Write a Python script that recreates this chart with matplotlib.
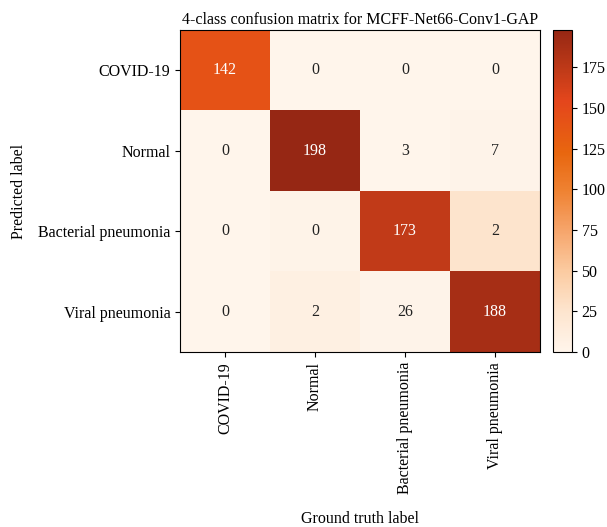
import numpy as np
import matplotlib.pyplot as plt
from matplotlib.colors import LinearSegmentedColormap

plt.rcParams['font.family'] = ['Liberation Serif', 'DejaVu Serif']

classes = ['COVID-19', 'Normal', 'Bacterial pneumonia', 'Viral pneumonia']
cm = np.array([[142, 0, 0, 0],
               [0, 198, 3, 7],
               [0, 0, 173, 2],
               [0, 2, 26, 188]])

# orange-red scale sampled from the original colour bar
cmap = LinearSegmentedColormap.from_list('orred', [
    (0.0, '#fff5eb'), (0.13, '#fde4cd'), (0.25, '#fbcba1'),
    (0.38, '#f6a46a'), (0.5, '#ef8232'), (0.62, '#e8660f'),
    (0.78, '#e4461c'), (0.88, '#bf3a18'), (1.0, '#962714')])

fig = plt.figure(figsize=(6.07, 5.27), dpi=100)
ax = fig.add_axes([0.2966, 0.332, 0.593, 0.611])
cax = fig.add_axes([0.911, 0.332, 0.031, 0.611])

# colours drawn from the transposed matrix, as in the original figure
im = ax.imshow(cm.T, cmap=cmap, aspect='auto', vmin=0, vmax=cm.max())
cb = fig.colorbar(im, cax=cax, ticks=np.arange(0, 176, 25))
cb.ax.tick_params(labelsize=11.5)

ax.set_xticks(range(len(classes)))
ax.set_yticks(range(len(classes)))
ax.set_xticklabels(classes, rotation=90, fontsize=11.5)
ax.set_yticklabels(classes, fontsize=11.5)
ax.set_title('4-class confusion matrix for MCFF-Net66-Conv1-GAP', fontsize=11.5, pad=4)
ax.set_xlabel('Ground truth label', fontsize=11.5)
ax.xaxis.set_label_coords(0.5, -0.495)
ax.set_ylabel('Predicted label', fontsize=11.5, labelpad=8)

thresh = cm.max() / 2
for i in range(cm.shape[0]):
    for j in range(cm.shape[1]):
        ax.text(j, i, str(cm[i, j]), ha='center', va='center', fontsize=11.5,
                color='white' if cm[i, j] > thresh else '#222222')

fig.savefig('out.png', dpi=100)
